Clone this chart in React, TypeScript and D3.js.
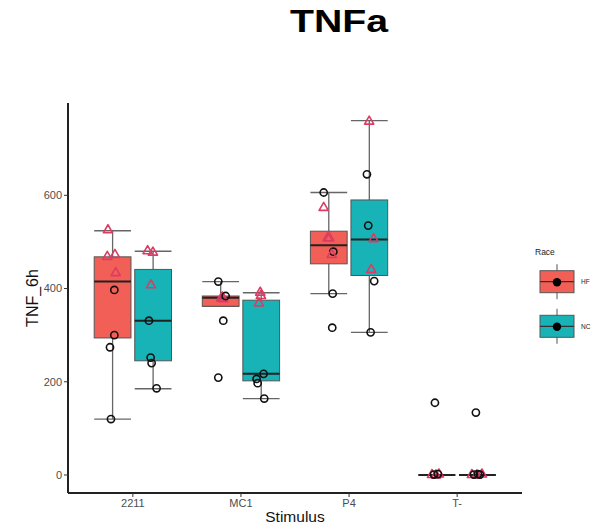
import React from "react";
import * as d3 from "d3";

const categories = ["2211", "MC1", "P4", "T-"];
const races = ["HF", "NC"];
const raceColors = ["#F25F57", "#17B3B6"];

// box stats per [category][race]
const lowerWhisker = [[120, 185], [362, 164], [389, 306], [0, 0]];
const q1 = [[294, 245], [362, 202], [453, 428], [0, 0]];
const medians = [[415, 331], [380, 217], [493, 505], [0, 0]];
const q3 = [[468, 441], [384, 375], [523, 590], [0, 0]];
const upperWhisker = [[524, 480], [415, 391], [606, 760], [0, 0]];

// observations: category, race, value, shape, jitter (fraction of category step)
const obsCategory = [
  "2211","2211","2211","2211","2211","2211","2211","2211",
  "2211","2211","2211","2211","2211","2211","2211",
  "MC1","MC1","MC1","MC1","MC1","MC1","MC1",
  "MC1","MC1","MC1","MC1","MC1","MC1","MC1",
  "P4","P4","P4","P4","P4","P4","P4","P4",
  "P4","P4","P4","P4","P4","P4","P4",
  "T-","T-","T-","T-","T-","T-",
  "T-","T-","T-","T-","T-","T-","T-",
];
const obsRace = [
  "HF","HF","HF","HF","HF","HF","HF","HF",
  "NC","NC","NC","NC","NC","NC","NC",
  "HF","HF","HF","HF","HF","HF","HF",
  "NC","NC","NC","NC","NC","NC","NC",
  "HF","HF","HF","HF","HF","HF","HF","HF",
  "NC","NC","NC","NC","NC","NC","NC",
  "HF","HF","HF","HF","HF","HF",
  "NC","NC","NC","NC","NC","NC","NC",
];
const obsValue = [
  527, 470, 474, 435, 397, 300, 274, 120,
  482, 479, 409, 331, 252, 240, 186,
  415, 383, 379, 381, 384, 331, 209,
  393, 386, 370, 217, 206, 197, 164,
  606, 575, 510, 510, 479, 474, 389, 316,
  760, 645, 535, 508, 442, 416, 306,
  155, 2, 1, 3, 1, 2,
  134, 2, 1, 3, 1, 2, 1,
];
const obsShape = [
  "tri","tri","tri","tri","circ","circ","circ","circ",
  "tri","tri","tri","circ","circ","circ","circ",
  "circ","tri","tri","tri","circ","circ","circ",
  "tri","tri","tri","circ","circ","circ","circ",
  "circ","tri","tri","tri","circ","tri","circ","circ",
  "tri","circ","circ","tri","tri","circ","circ",
  "circ","tri","tri","tri","circ","circ",
  "circ","tri","tri","tri","circ","circ","circ",
];
const obsJitter = [
  -0.043, -0.049, 0.022, 0.029, 0.016, 0.016, -0.024, -0.015,
  -0.051, -0.002, -0.020, -0.039, -0.023, -0.014, 0.032,
  -0.022, 0.015, 0.024, 0.005, 0.046, 0.024, -0.022,
  -0.009, -0.003, -0.021, 0.022, -0.043, -0.033, 0.028,
  -0.047, -0.047, -0.010, 0.005, 0.042, 0.027, 0.036, 0.032,
  -0.001, -0.022, -0.010, 0.040, 0.018, 0.045, 0.012,
  -0.018, -0.045, -0.008, 0.019, -0.027, 0.010,
  -0.014, -0.051, -0.005, 0.042, -0.032, 0.005, 0.023,
];

const yTicks = [0, 200, 400, 600];

const W = 592;
const H = 528;
const left = 68;
const right = 522;
const top = 103;
const bottom = 493;

const font = "'Liberation Sans', Arial, sans-serif";

export default function App() {
  const x = d3.scalePoint<string>().domain(categories).range([left, right]).padding(0.6);
  const step = x.step();
  const y = d3.scaleLinear().domain([-38.6, 798]).range([bottom, top]);
  const dodge = 0.1875 * step;
  const boxW = 0.34 * step;

  const groupX = (cat: string, race: string) =>
    (x(cat) as number) + (race === "HF" ? -dodge : dodge);

  const triPath = (cx: number, cy: number) => {
    const s = 4.6;
    return `M${cx},${cy - s}L${cx + s},${cy + s * 0.75}L${cx - s},${cy + s * 0.75}Z`;
  };

  const boxes: React.ReactNode[] = [];
  categories.forEach((cat, ci) => {
    races.forEach((race, ri) => {
      const cx = groupX(cat, race);
      const x0 = cx - boxW / 2;
      const x1 = cx + boxW / 2;
      const lw = y(lowerWhisker[ci][ri]);
      const uw = y(upperWhisker[ci][ri]);
      const b1 = y(q1[ci][ri]);
      const b3 = y(q3[ci][ri]);
      const md = y(medians[ci][ri]);
      boxes.push(
        <g key={`${cat}-${race}`}>
          <line x1={cx} x2={cx} y1={uw} y2={b3} stroke="#666" strokeWidth={1.3} />
          <line x1={cx} x2={cx} y1={b1} y2={lw} stroke="#666" strokeWidth={1.3} />
          <line x1={x0} x2={x1} y1={uw} y2={uw} stroke="#666" strokeWidth={1.3} />
          <line x1={x0} x2={x1} y1={lw} y2={lw} stroke="#666" strokeWidth={1.3} />
          <rect x={x0} y={b3} width={boxW} height={Math.max(0, b1 - b3)} fill={raceColors[ri]} stroke="#555" strokeWidth={1} />
          <line x1={x0} x2={x1} y1={md} y2={md} stroke="#222" strokeWidth={2} />
        </g>
      );
    });
  });

  const points = obsValue.map((v, i) => {
    const cx = groupX(obsCategory[i], obsRace[i]) + obsJitter[i] * step;
    const cy = y(v);
    if (obsShape[i] === "tri") {
      return <path key={i} d={triPath(cx, cy)} fill="none" stroke="#DC3C64" strokeWidth={1.6} strokeLinejoin="round" />;
    }
    return <circle key={i} cx={cx} cy={cy} r={3.6} fill="none" stroke="#111" strokeWidth={1.6} />;
  });

  const legendKeys = races.map((race, ri) => {
    const ky = 270.7 + ri * 44.6;
    const kx = 540;
    const kw = 34;
    const kh = 22;
    return (
      <g key={race}>
        <line x1={kx + kw / 2} x2={kx + kw / 2} y1={ky - 6.5} y2={ky + kh + 6.5} stroke="#555" strokeWidth={1} />
        <rect x={kx} y={ky} width={kw} height={kh} fill={raceColors[ri]} stroke="#555" strokeWidth={1} />
        <line x1={kx} x2={kx + kw} y1={ky + kh / 2} y2={ky + kh / 2} stroke="#333" strokeWidth={1.3} />
        <circle cx={kx + kw / 2} cy={ky + kh / 2 + 0.5} r={4.2} fill="#000" />
        <text x={581} y={ky + kh / 2 + 2.3} fontSize={6.5} fill="#222" fontFamily={font}>{race}</text>
      </g>
    );
  });

  return (
    <svg width={W} height={H} style={{ position: "absolute", left: 0, top: 0, background: "#fff" }}>
      <text x={339} y={32} fontSize={31} fontWeight="bold" textAnchor="middle" fontFamily={font} fill="#000" textLength={98} lengthAdjust="spacingAndGlyphs">TNFa</text>

      {/* y axis */}
      <line x1={left} x2={left} y1={top} y2={bottom} stroke="#222" strokeWidth={2} />
      {yTicks.map((t) => (
        <g key={t}>
          <line x1={left - 4} x2={left} y1={y(t)} y2={y(t)} stroke="#333" strokeWidth={1} />
          <text x={left - 6} y={y(t)} dy="0.35em" textAnchor="end" fontSize={11} fill="#4D4D4D" fontFamily={font}>{t}</text>
        </g>
      ))}
      <text transform={`translate(38,${(top + bottom) / 2}) rotate(-90)`} textAnchor="middle" fontSize={16} fill="#111" fontFamily={font}>TNF_6h</text>

      {/* x axis */}
      <line x1={left} x2={right} y1={bottom} y2={bottom} stroke="#222" strokeWidth={2} />
      {categories.map((c) => (
        <g key={c}>
          <line x1={x(c)} x2={x(c)} y1={bottom} y2={bottom + 4} stroke="#333" strokeWidth={1} />
          <text x={x(c)} y={bottom + 14} textAnchor="middle" fontSize={11} fill="#4D4D4D" fontFamily={font}>{c}</text>
        </g>
      ))}
      <text x={(left + right) / 2} y={522} textAnchor="middle" fontSize={15.5} fill="#111" fontFamily={font}>Stimulus</text>

      {boxes}
      {points}

      <text x={535} y={255} fontSize={8.5} fill="#222" fontFamily={font}>Race</text>
      {legendKeys}
    </svg>
  );
}
